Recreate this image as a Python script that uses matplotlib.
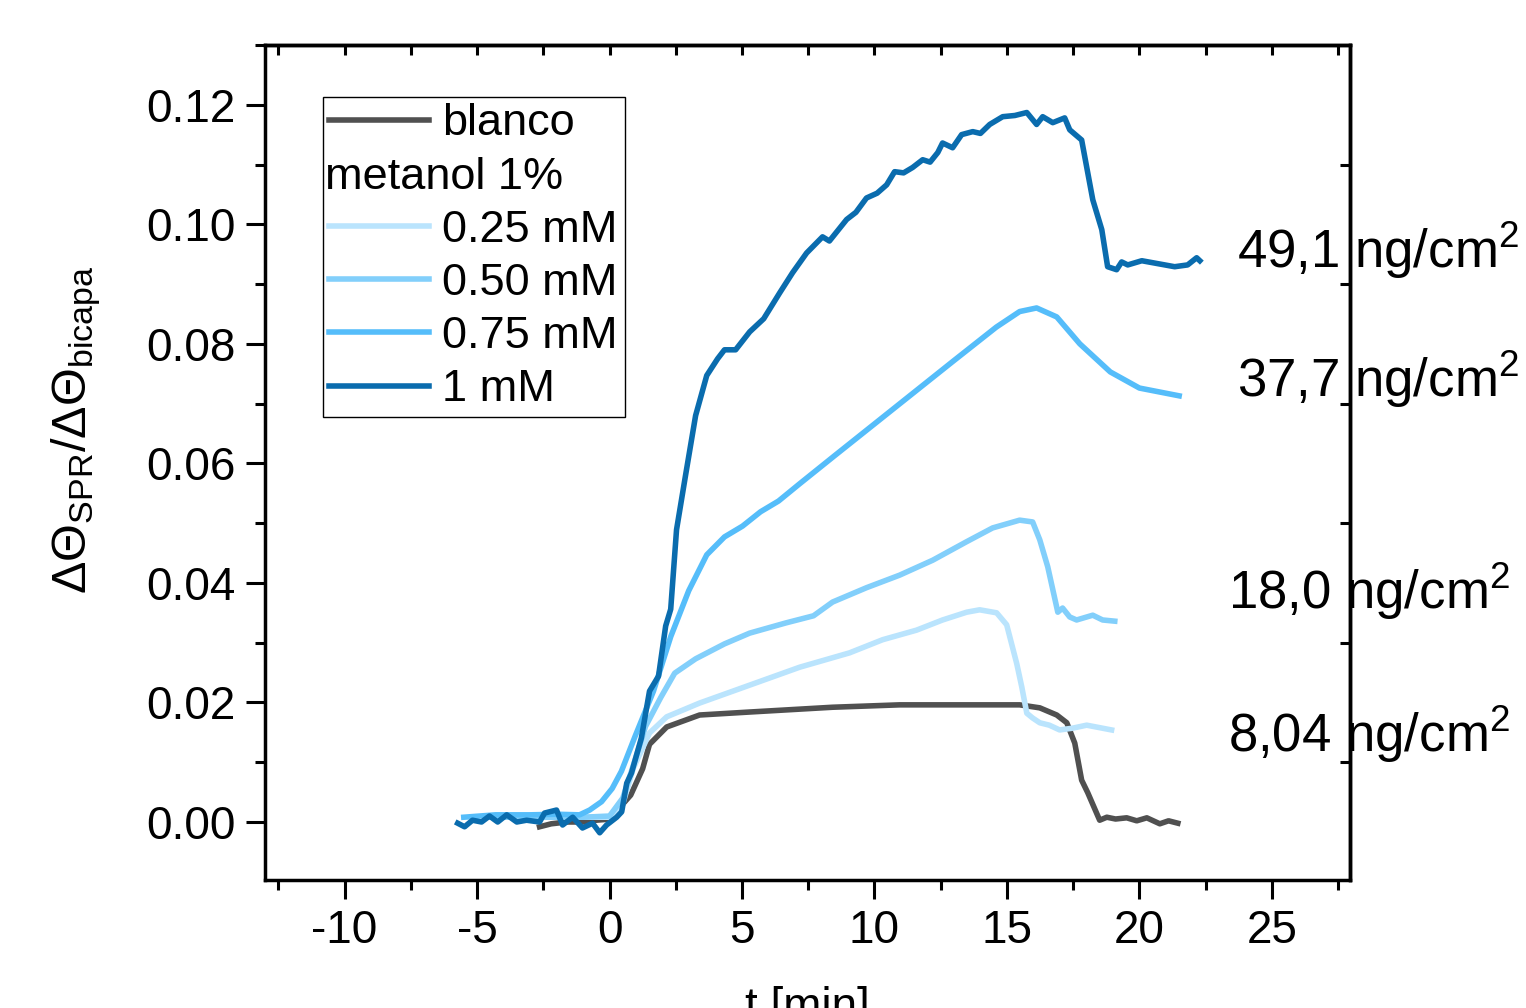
import matplotlib
matplotlib.use("Agg")
import matplotlib.pyplot as plt
import matplotlib.ticker as ticker
from matplotlib.lines import Line2D

plt.rcParams['font.family'] = ['Liberation Sans', 'DejaVu Sans']
plt.rcParams['mathtext.fontset'] = 'custom'
plt.rcParams['mathtext.rm'] = 'Liberation Sans'
plt.rcParams['mathtext.it'] = 'Liberation Sans'
plt.rcParams['mathtext.default'] = 'regular'
plt.rcParams['axes.unicode_minus'] = False

# --- data ---
t_blanco = [-2.64, -2.2, -1.6, -1.0, -0.5, 0.04, 0.4, 0.8, 1.25, 1.51, 2.16, 3.4, 5.29, 8.42,
            10.95, 13.48, 15.48, 16.24, 16.88, 17.26, 17.56, 17.82, 18.05, 18.5, 18.77, 19.1,
            19.52, 19.9, 20.28, 20.77, 21.1, 21.45]
y_blanco = [-0.0008, -0.0003, 0.0, 0.0, 0.0003, 0.0005, 0.0025, 0.0045, 0.0089, 0.013, 0.0159,
            0.0179, 0.0184, 0.0192, 0.0196, 0.0196, 0.0196, 0.0191, 0.0179, 0.0166, 0.0132, 0.007,
            0.0049, 0.0003, 0.0008, 0.0005, 0.0007, 0.0002, 0.0007, -0.0003, 0.0002, -0.0002]

t_025 = [-4.5, -1.0, 0.0, 0.5, 0.9, 1.51, 2.16, 3.4, 5.29, 7.18, 9.06, 10.31, 11.59, 12.57,
         13.48, 13.97, 14.61, 14.99, 15.37, 15.56, 15.75, 15.97, 16.24, 16.6, 16.99, 17.48,
         18.01, 18.95]
y_025 = [0.0008, 0.0008, 0.0008, 0.003, 0.009, 0.0149, 0.0176, 0.0199, 0.0229, 0.0259, 0.0283,
         0.0305, 0.0321, 0.0338, 0.0351, 0.0355, 0.035, 0.033, 0.0265, 0.0226, 0.0182, 0.0174,
         0.0166, 0.0162, 0.0154, 0.0157, 0.0162, 0.0154]

t_050 = [-4.5, -2.5, -1.0, 0.0, 0.5, 0.9, 1.36, 1.93, 2.46, 3.25, 4.34, 5.29, 6.65, 7.7, 8.42,
         9.7, 10.95, 12.2, 13.48, 14.46, 15.48, 15.97, 16.24, 16.54, 16.92, 17.1, 17.37, 17.63,
         18.24, 18.61, 19.07]
y_050 = [0.0008, 0.0008, 0.0008, 0.001, 0.004, 0.0095, 0.016, 0.0208, 0.0249, 0.0273, 0.0298,
         0.0316, 0.0333, 0.0345, 0.0368, 0.0392, 0.0413, 0.0438, 0.0469, 0.0492, 0.0505, 0.0502,
         0.0472, 0.0427, 0.0351, 0.0358, 0.0343, 0.0338, 0.0346, 0.0338, 0.0336]

t_075 = [-5.5, -4.3, -3.0, -2.0, -1.13, -0.75, -0.3, 0.1, 0.45, 0.98, 1.66, 2.31, 2.99, 3.67,
         4.34, 5.02, 5.7, 6.38, 7.18, 8.5, 10.0, 11.5, 13.0, 13.6, 14.6, 15.48, 16.12, 16.88,
         17.75, 18.9, 20.0, 21.5]
y_075 = [0.0008, 0.0012, 0.0012, 0.0013, 0.0012, 0.002, 0.0034, 0.0056, 0.0085, 0.0145, 0.0219,
         0.031, 0.0387, 0.0447, 0.0477, 0.0495, 0.0519, 0.0537, 0.0566, 0.0613, 0.0666, 0.0719,
         0.0772, 0.0793, 0.0828, 0.0854, 0.086, 0.0845, 0.080, 0.0753, 0.0726, 0.0713]

t_1 = [-5.73, -5.47, -5.17, -4.83, -4.53, -4.22, -3.88, -3.5, -3.13, -2.64, -2.45, -2.0, -1.77,
       -1.39, -1.02, -0.64, -0.37, -0.11, 0.27, 0.46, 0.65, 0.83, 1.2, 1.51, 1.85, 2.12, 2.31,
       2.53, 2.87, 3.25, 3.67, 4.08, 4.34, 4.76, 5.29, 5.82, 6.42, 6.91, 7.44, 8.04, 8.3, 8.95,
       9.3, 9.7, 10.1, 10.46, 10.76, 11.1, 11.44, 11.82, 12.1, 12.39, 12.57, 12.95, 13.29,
       13.71, 14.0, 14.35, 14.84, 15.3, 15.75, 16.12, 16.35, 16.73, 17.18, 17.37, 17.82, 18.24,
       18.58, 18.8, 19.14, 19.33, 19.56, 20.09, 21.33, 21.82, 22.16, 22.28]
y_1 = [-0.0002, -0.0008, 0.0003, 0.0, 0.001, 0.0, 0.0012, 0.0, 0.0003, 0.0, 0.0015, 0.002,
       -0.0005, 0.0008, -0.001, -0.0002, -0.0018, -0.0005, 0.0008, 0.0017, 0.0065, 0.0082, 0.014,
       0.0219, 0.0244, 0.0328, 0.0356, 0.0489, 0.058, 0.068, 0.0747, 0.0775, 0.079, 0.079, 0.082,
       0.0842, 0.0885, 0.0919, 0.0952, 0.0979, 0.0972, 0.1008, 0.1020, 0.1044, 0.1052, 0.1066,
       0.1088, 0.1086, 0.1095, 0.1108, 0.1104, 0.112, 0.1136, 0.1128, 0.115, 0.1155, 0.1152,
       0.1167, 0.118, 0.1182, 0.1187, 0.1167, 0.118, 0.117, 0.1178, 0.1158, 0.1141, 0.1041,
       0.0991, 0.0929, 0.0924, 0.0937, 0.0932, 0.0939, 0.0929, 0.0932, 0.0944, 0.0939]

series = [
    (t_blanco, y_blanco, "blanco", "#505050"),
    (t_025, y_025, "0.25 mM", "#bae4fd"),
    (t_050, y_050, "0.50 mM", "#82cffb"),
    (t_075, y_075, "0.75 mM", "#55bdfa"),
    (t_1, y_1, "1 mM", "#0a6cae"),
]

masses = ["49,1 ng/cm$^2$", "37,7 ng/cm$^2$", "18,0 ng/cm$^2$", "8,04 ng/cm$^2$"]
mass_x = [23.67, 23.67, 23.33, 23.33]
mass_y = [0.0957, 0.0740, 0.0385, 0.0146]

fig = plt.figure(figsize=(15.26, 10.08), dpi=100)
ax = fig.add_axes([0.1737, 0.127, 0.711, 0.8284])

lines = {}
for t, y, lab, col in series:
    ln, = ax.plot(t, y, color=col, lw=4, label=lab, solid_joinstyle='round')
    lines[lab] = ln

ax.set_xlim(-13.0, 27.95)
ax.set_ylim(-0.0097, 0.13)

ax.xaxis.set_major_locator(ticker.MultipleLocator(5))
ax.xaxis.set_minor_locator(ticker.MultipleLocator(2.5))
ax.yaxis.set_major_locator(ticker.MultipleLocator(0.02))
ax.yaxis.set_minor_locator(ticker.MultipleLocator(0.01))
ax.yaxis.set_major_formatter(ticker.FormatStrFormatter('%.2f'))

ax.tick_params(which='major', direction='out', length=14, width=2.2, labelsize=33, pad=7)
ax.tick_params(which='minor', direction='out', length=7, width=2.2)
for sp in ax.spines.values():
    sp.set_linewidth(2.5)

# top / right only carry short inward ticks at the minor positions
secx = ax.secondary_xaxis('top')
secx.xaxis.set_major_locator(ticker.NullLocator())
secx.xaxis.set_minor_locator(ticker.MultipleLocator(2.5))
secx.tick_params(which='minor', direction='in', length=7, width=2.2, labeltop=False)
secx.spines['top'].set_linewidth(2.5)
secy = ax.secondary_yaxis('right')
secy.yaxis.set_major_locator(ticker.NullLocator())
secy.yaxis.set_minor_locator(ticker.FixedLocator([0.01, 0.03, 0.05, 0.07, 0.09, 0.11]))
secy.tick_params(which='minor', direction='in', length=7, width=2.2, labelright=False)
secy.spines['right'].set_linewidth(2.5)

ax.set_xlabel("t [min]", fontsize=33, labelpad=24)
ax.set_ylabel(r'$\Delta\Theta_{SPR}/\Delta\Theta_{bicapa}$', fontsize=35)
ax.yaxis.set_label_coords(-0.149, 0.539)

blank = Line2D([], [], color='none')
handles = [lines["blanco"], blank, lines["0.25 mM"], lines["0.50 mM"],
           lines["0.75 mM"], lines["1 mM"]]
labels = ["blanco", " ", "0.25 mM", "0.50 mM", "0.75 mM", "1 mM"]
leg = ax.legend(handles, labels, loc='upper left', bbox_to_anchor=(0.053, 0.938),
                fontsize=32.5, frameon=True, fancybox=False, framealpha=1,
                edgecolor='black', handlelength=2.2, handletextpad=0.3,
                labelspacing=0.27, borderpad=0.15, borderaxespad=0.0)
leg.get_frame().set_linewidth(1.0)
ax.text(0.0555, 0.841, "metanol 1%", transform=ax.transAxes, fontsize=32.5,
        va='center', ha='left', zorder=10)

for s, x, y in zip(masses, mass_x, mass_y):
    ax.text(x, y, s, fontsize=38, ha='left', va='center', clip_on=False)

fig.savefig("out.png", dpi=100)
